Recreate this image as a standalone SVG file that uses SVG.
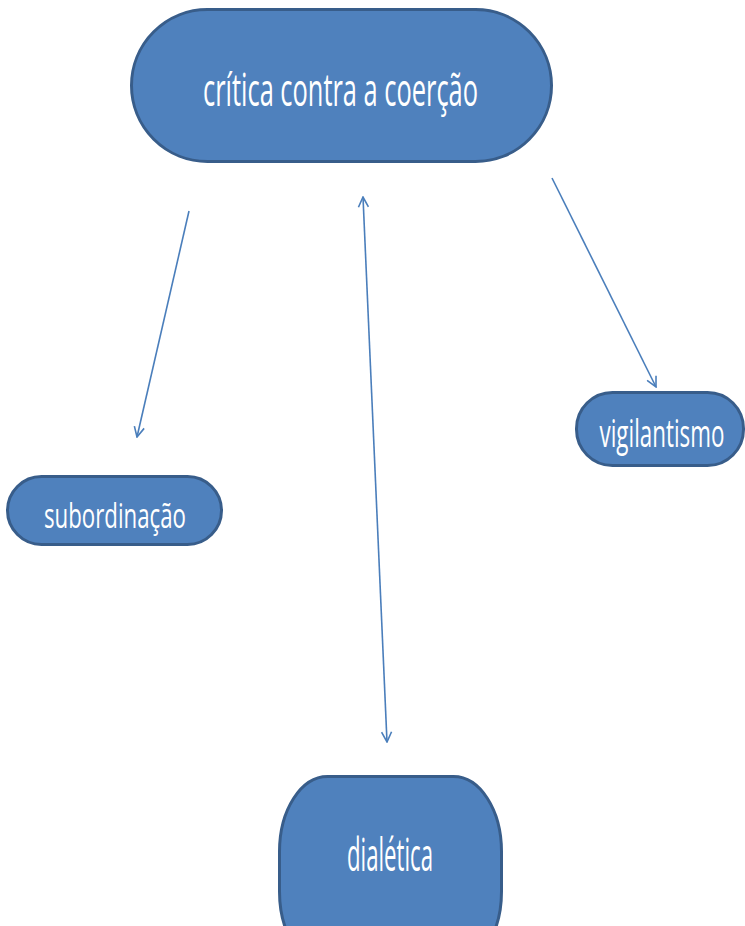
<svg xmlns="http://www.w3.org/2000/svg" width="745" height="926" viewBox="0 0 745 926">
<style>
.node{fill:#4F81BD;stroke:#385D8A;stroke-width:3}
.lbl{fill:#FFFFFF;font-family:"Open Sans","Noto Sans","Liberation Sans",sans-serif;text-anchor:middle}
.con{stroke:#4A7EBB;stroke-width:1.6;fill:none}
</style>
<defs>
<marker id="ah" viewBox="0 0 12 12" refX="11" refY="6" markerWidth="12" markerHeight="12" markerUnits="userSpaceOnUse" orient="auto-start-reverse">
<path d="M1,1 L11,6 L1,11" fill="none" stroke="#4A7EBB" stroke-width="1.6"/>
</marker>
</defs>
<rect width="745" height="926" fill="#FFFFFF"/>
<g id="connectors">
<line class="con" x1="189" y1="211" x2="137" y2="437" marker-end="url(#ah)"/>
<line class="con" x1="363" y1="197" x2="387" y2="742" marker-start="url(#ah)" marker-end="url(#ah)"/>
<line class="con" x1="552" y1="178" x2="656" y2="387" marker-end="url(#ah)"/>
</g>
<g id="node-critica">
<rect class="node" x="131.5" y="9.5" width="420" height="152" rx="76" ry="76"/>
<text class="lbl" x="340.5" y="106" font-size="46" textLength="275" lengthAdjust="spacingAndGlyphs">crítica contra a coerção</text>
</g>
<g id="node-subordinacao">
<rect class="node" x="7.5" y="476.5" width="214" height="68" rx="34" ry="34"/>
<text class="lbl" x="115" y="528" font-size="34" textLength="142" lengthAdjust="spacingAndGlyphs">subordinação</text>
</g>
<g id="node-vigilantismo">
<rect class="node" x="576.5" y="392.5" width="167" height="73" rx="36" ry="36"/>
<text class="lbl" x="662" y="447" font-size="38" textLength="125" lengthAdjust="spacingAndGlyphs">vigilantismo</text>
</g>
<g id="node-dialetica">
<rect class="node" x="279.5" y="776.5" width="222" height="190" rx="48" ry="75"/>
<text class="lbl" x="390" y="871" font-size="45" textLength="86" lengthAdjust="spacingAndGlyphs">dialética</text>
</g>
</svg>
